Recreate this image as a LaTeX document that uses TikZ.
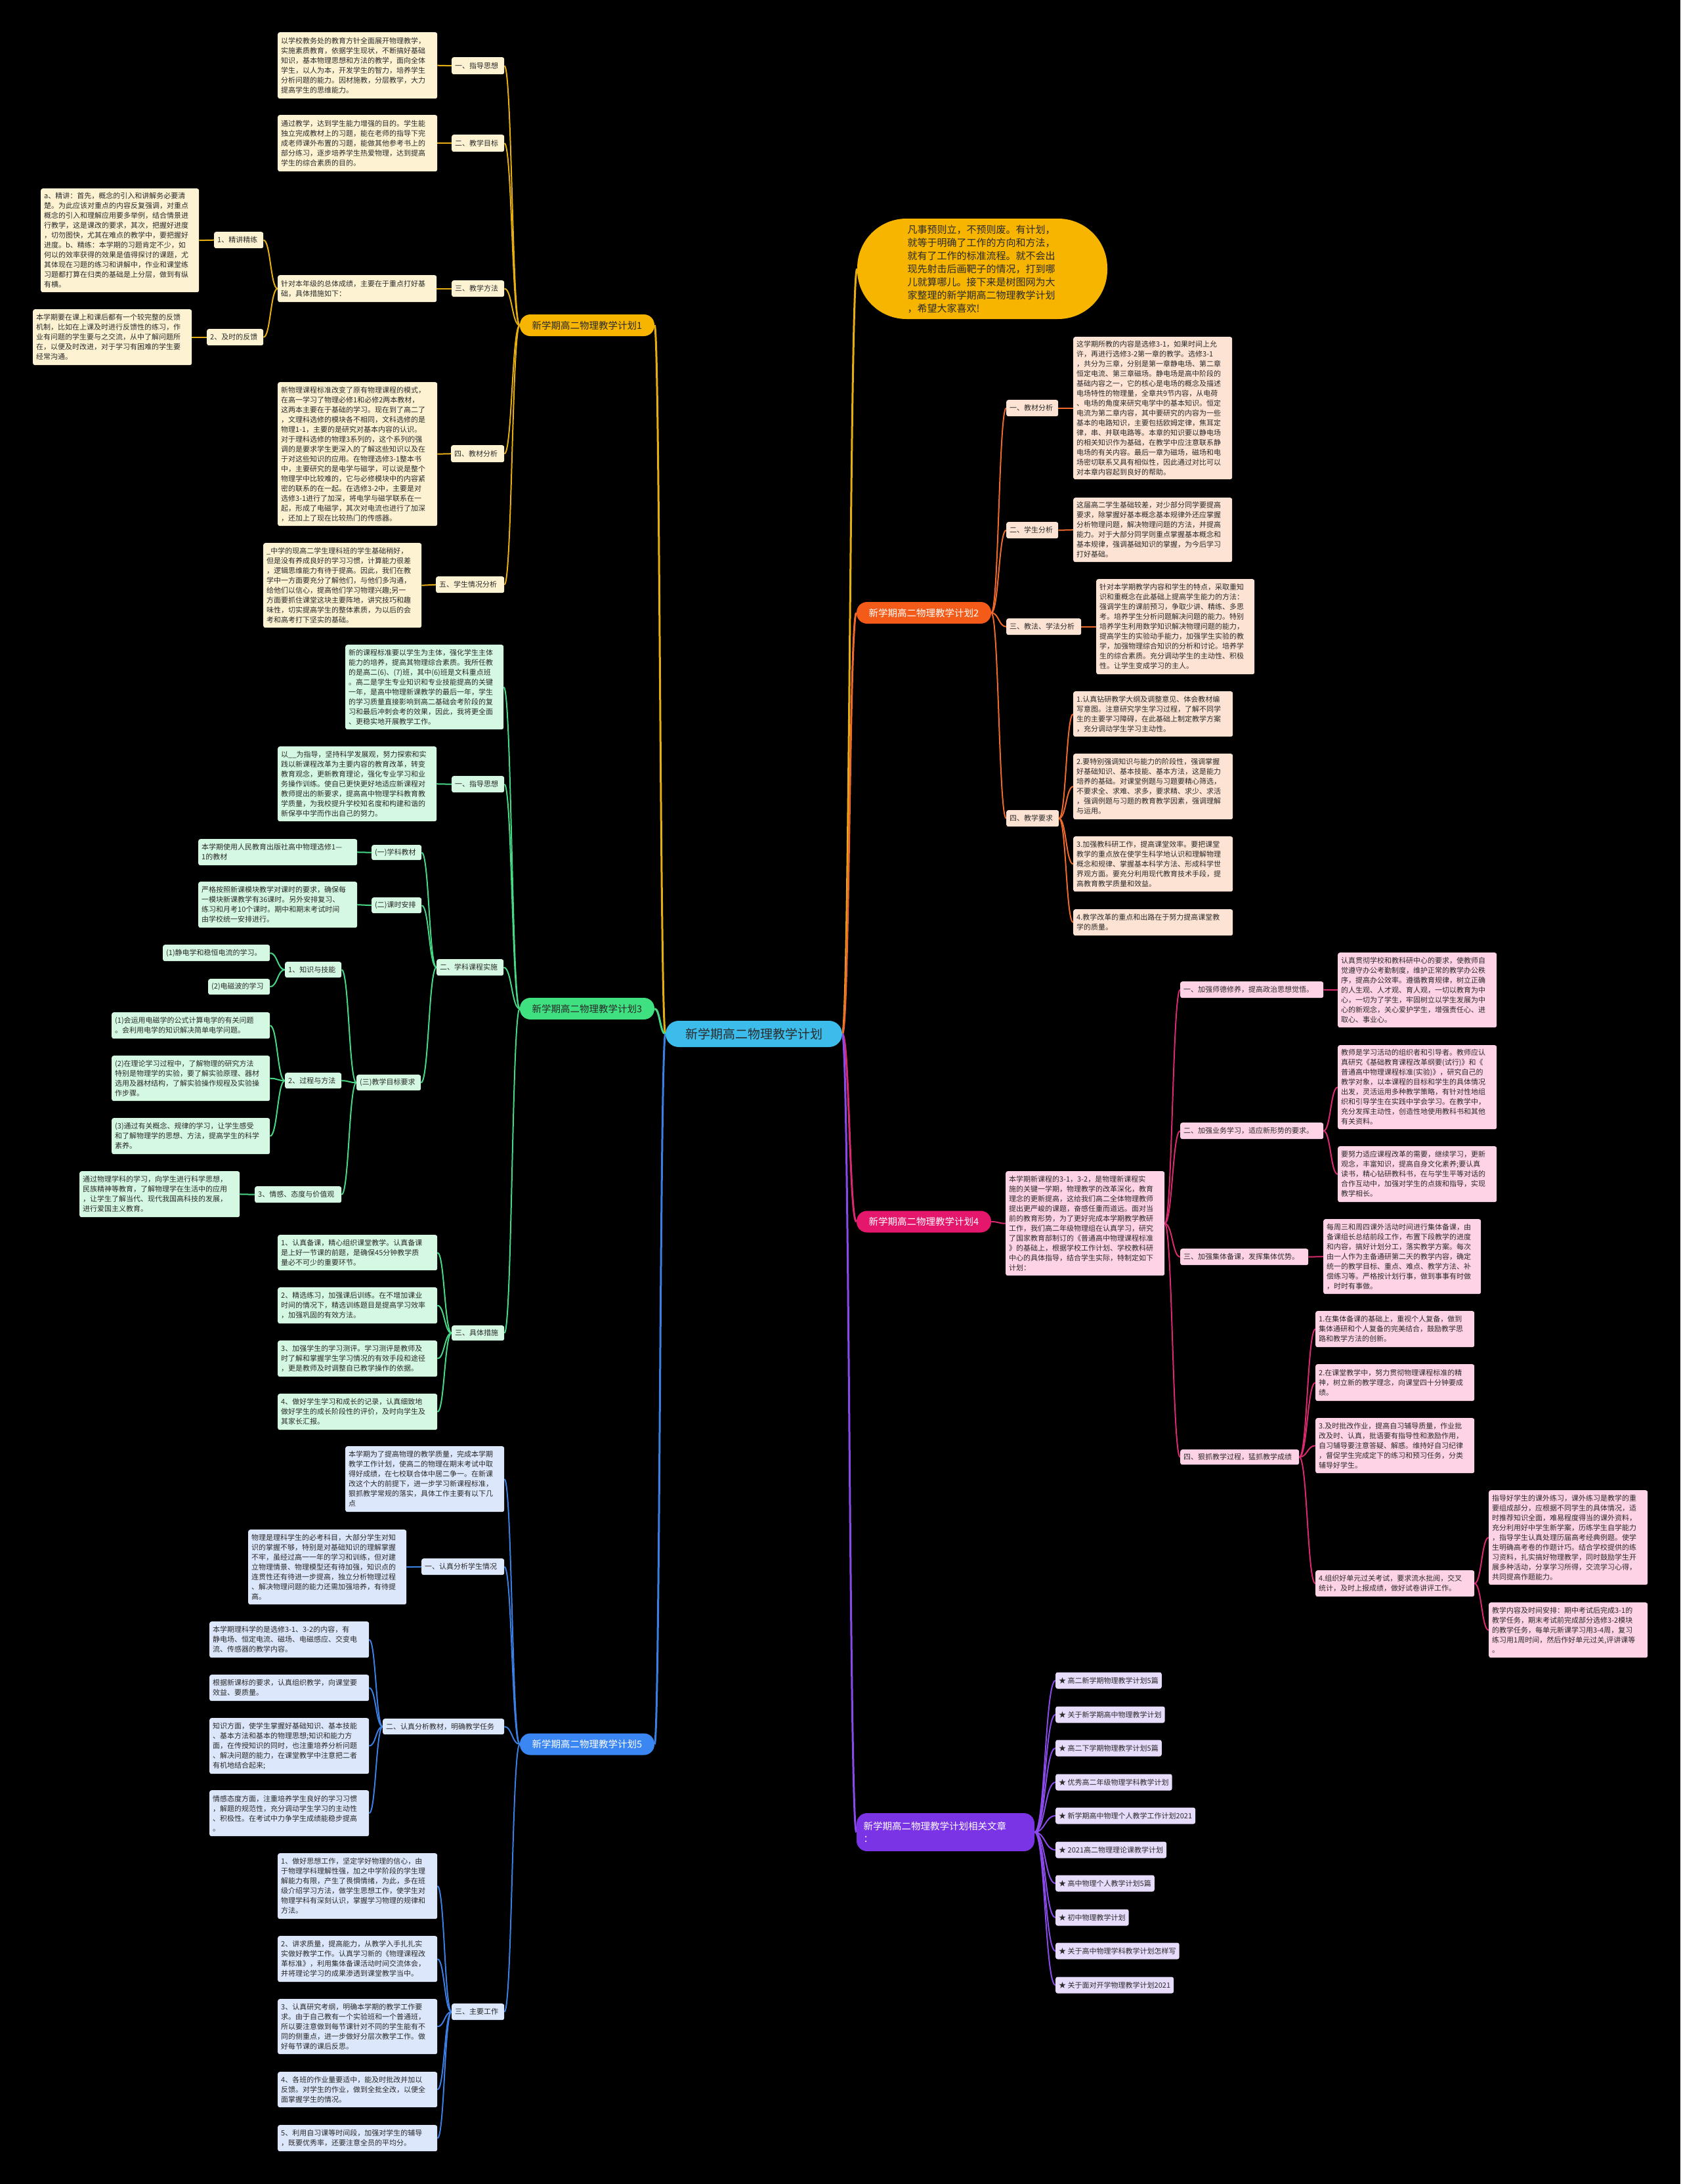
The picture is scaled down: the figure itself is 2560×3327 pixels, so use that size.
\documentclass[tikz,border=0pt]{standalone}
\usepackage{fontspec}
\newfontfamily\cjk{Noto Sans CJK SC}
\usetikzlibrary{calc}
\pgfdeclarelayer{bglines}
\pgfsetlayers{bglines,main}
\definecolor{ymain}{HTML}{F7B500}\definecolor{ysub}{HTML}{FDF3D3}\definecolor{yln}{HTML}{E5AE12}
\definecolor{omain}{HTML}{F45B18}\definecolor{osub}{HTML}{FDE3D3}\definecolor{oln}{HTML}{EE6A2C}
\definecolor{gmain}{HTML}{3EE07F}\definecolor{gsub}{HTML}{D4F8E1}\definecolor{gln}{HTML}{47D886}
\definecolor{pmain}{HTML}{E5176C}\definecolor{psub}{HTML}{FFD3E6}\definecolor{pln}{HTML}{D82A70}
\definecolor{bmain}{HTML}{3A86F2}\definecolor{bsub}{HTML}{DCE7FB}\definecolor{bln}{HTML}{3C7FE3}
\definecolor{vmain}{HTML}{7B33E6}\definecolor{vsub}{HTML}{E7DCFB}\definecolor{vln}{HTML}{8A4AEA}
\definecolor{rootc}{HTML}{3BBCEB}
\definecolor{dtxt}{HTML}{2A2A2A}
\newcommand\mybox[7]{%
  \pgfmathsetmacro\mbw{#5-#3-10}%
  \pgfmathsetmacro\mbh{#6-#4}%
  \node[#2,anchor=north west,text width=\mbw pt,minimum height=\mbh pt] (#1) at (#3,#4) {#7};}
\newcommand\cL[3]{\draw[#1] let \p1=(#2.west),\p2=(#3.east) in (\p1) .. controls ({(\x1+\x2)/2},\y1) and ({(\x1+\x2)/2},\y2) .. (\p2);}
\newcommand\cR[3]{\draw[#1] let \p1=(#2.east),\p2=(#3.west) in (\p1) .. controls ({(\x1+\x2)/2},\y1) and ({(\x1+\x2)/2},\y2) .. (\p2);}
\tikzset{
  base/.style={rectangle,rounded corners=3pt,inner xsep=5pt,inner ysep=2pt,align=left,text=dtxt,font=\cjk\fontsize{11}{15}\selectfont},
  yb/.style={base,fill=ysub},
  ob/.style={base,fill=osub},
  gb/.style={base,fill=gsub},
  pb/.style={base,fill=psub},
  bb/.style={base,fill=bsub},
  vb/.style={base,fill=vsub,minimum height=25pt},
  mainnode/.style={rectangle,rounded corners=16pt,minimum width=205pt,minimum height=33pt,inner sep=3pt,font=\cjk\fontsize{14.5}{17}\selectfont},
  yl/.style={draw=yln,line width=2pt},
  ol/.style={draw=oln,line width=2pt},
  gl/.style={draw=gln,line width=2pt},
  pl/.style={draw=pln,line width=2pt},
  bl/.style={draw=bln,line width=2pt},
  vl/.style={draw=vln,line width=2pt},
}
\begin{document}
\begin{tikzpicture}[x=1pt,y=-1pt]
\begin{pgfonlayer}{bglines}
\fill[black] (0,0) rectangle (2560,3327);
\end{pgfonlayer}
\useasboundingbox (0,0) rectangle (2560,3327);

% root
\node[rectangle,rounded corners=20pt,fill=rootc,minimum width=269pt,minimum height=40pt,text=dtxt,font=\cjk\fontsize{19}{22}\selectfont] (root) at (1148.5,1575) {新学期高二物理教学计划};

% ===== Branch 1 =====
\node[mainnode,fill=ymain,text=dtxt] (b1) at (894.5,495.5) {新学期高二物理教学计划1};
\mybox{n1a}{yb}{688}{87}{768}{113}{一、指导思想}
\mybox{t1a}{yb}{423}{49}{666}{150}{以学校教务处的教育方针全面展开物理教学，\\实施素质教育，依据学生现状，不断搞好基础\\知识，基本物理思想和方法的教学，面向全体\\学生，以人为本，开发学生的智力，培养学生\\分析问题的能力。因材施教，分层教学，大力\\提高学生的思维能力。}
\mybox{n1b}{yb}{688}{205}{768}{231}{二、教学目标}
\mybox{t1b}{yb}{423}{175}{666}{261}{通过教学，达到学生能力增强的目的。学生能\\独立完成教材上的习题，能在老师的指导下完\\成老师课外布置的习题，能做其他参考书上的\\部分练习，逐步培养学生热爱物理，达到提高\\学生的综合素质的目的。}
\mybox{n1c}{yb}{688}{427}{768}{452}{三、教学方法}
\mybox{t1c}{yb}{423}{419}{665}{460}{针对本年级的总体成绩，主要在于重点打好基\\础，具体措施如下：}
\mybox{n1c1}{yb}{326}{353}{401}{378}{1、精讲精练}
\mybox{t1c1}{yb}{62}{287}{303}{445}{a、精讲：首先，概念的引入和讲解务必要清\\楚。为此应该对重点的内容反复强调，对重点\\概念的引入和理解应用要多举例，结合情景进\\行教学，这是课改的要求，其次，把握好进度\\，切勿图快，尤其在难点的教学中，要把握好\\进度。b、精练：本学期的习题肯定不少，如\\何以的效率获得的效果是值得探讨的课题，尤\\其体现在习题的练习和讲解中，作业和课堂练\\习题都打算在归类的基础是上分层，做到有纵\\有横。}
\mybox{n1c2}{yb}{315}{501}{401}{526}{2、及时的反馈}
\mybox{t1c2}{yb}{50}{471}{292}{556}{本学期要在课上和课后都有一个较完整的反馈\\机制，比如在上课及时进行反馈性的练习，作\\业有问题的学生要与之交流，从中了解问题所\\在，以便及时改进，对于学习有困难的学生要\\经常沟通。}
\mybox{n1d}{yb}{687}{678}{768}{704}{四、教材分析}
\mybox{t1d}{yb}{423}{582}{666}{801}{新物理课程标准改变了原有物理课程的模式，\\在高一学习了物理必修1和必修2两本教材，\\这两本主要在于基础的学习。现在到了高二了\\，文理科选修的模块各不相同，文科选修的是\\物理1-1，主要的是研究对基本内容的认识。\\对于理科选修的物理3系列的，这个系列的强\\调的是要求学生更深入的了解这些知识以及在\\于对这些知识的应用。在物理选修3-1整本书\\中，主要研究的是电学与磁学，可以说是整个\\物理学中比较难的，它与必修模块中的内容紧\\密的联系的在一起。在选修3-2中，主要是对\\选修3-1进行了加深，将电学与磁学联系在一\\起，形成了电磁学，其次对电流也进行了加深\\，还加上了现在比较热门的传感器。}
\mybox{n1e}{yb}{664}{878}{768}{903}{五、学生情况分析}
\mybox{t1e}{yb}{401}{827}{642}{956}{\_中学的现高二学生理科班的学生基础稍好，\\但是没有养成良好的学习习惯，计算能力很差\\，逻辑思维能力有待于提高。因此，我们在教\\学中一方面要充分了解他们，与他们多沟通，\\给他们以信心，提高他们学习物理兴趣;另一\\方面要抓住课堂这块主要阵地，讲究技巧和趣\\味性，切实提高学生的整体素质，为以后的会\\考和高考打下坚实的基础。}

% ===== intro =====
\node[rectangle,rounded corners=75pt,fill=ymain,minimum width=381pt,minimum height=153pt,text width=228pt,align=left,text=dtxt,font=\cjk\fontsize{15}{20}\selectfont] (intro) at (1496.5,409.5) {凡事预则立，不预则废。有计划，\\就等于明确了工作的方向和方法，\\就有了工作的标准流程。就不会出\\现先射击后画靶子的情况，打到哪\\儿就算哪儿。接下来是树图网为大\\家整理的新学期高二物理教学计划\\，希望大家喜欢!};

% ===== Branch 2 =====
\node[mainnode,fill=omain,text=white] (b2) at (1407.5,933.5) {新学期高二物理教学计划2};
\mybox{n2a}{ob}{1533}{609}{1612}{634}{一、教材分析}
\mybox{t2a}{ob}{1635}{513}{1877}{730}{这学期所教的内容是选修3-1，如果时间上允\\许，再进行选修3-2第一章的教学。选修3-1\\，共分为三章，分别是第一章静电场、第二章\\恒定电流、第三章磁场。静电场是高中阶段的\\基础内容之一，它的核心是电场的概念及描述\\电场特性的物理量，全章共9节内容，从电荷\\、电场的角度来研究电学中的基本知识。恒定\\电流为第二章内容，其中要研究的内容为一些\\基本的电路知识，主要包括欧姆定律，焦耳定\\律，串、并联电路等。本章的知识要以静电场\\的相关知识作为基础，在教学中应注意联系静\\电场的有关内容。最后一章为磁场，磁场和电\\场密切联系又具有相似性，因此通过对比可以\\对本章内容起到良好的帮助。}
\mybox{n2b}{ob}{1533}{795}{1612}{820}{二、学生分析}
\mybox{t2b}{ob}{1635}{758}{1877}{856}{这届高二学生基础较差，对少部分同学要提高\\要求，除掌握好基本概念基本规律外还应掌握\\分析物理问题，解决物理问题的方法，并提高\\能力。对于大部分同学则重点掌握基本概念和\\基本规律，强调基础知识的掌握，为今后学习\\打好基础。}
\mybox{n2c}{ob}{1533}{942}{1647}{967}{三、教法、学法分析}
\mybox{t2c}{ob}{1670}{882}{1911}{1027}{针对本学期教学内容和学生的特点，采取重知\\识和重概念在此基础上提高学生能力的方法：\\强调学生的课前预习，争取少讲、精练、多思\\考。培养学生分析问题解决问题的能力。特别\\培养学生利用数学知识解决物理问题的能力，\\提高学生的实验动手能力，加强学生实验的教\\学，加强物理综合知识的分析和讨论。培养学\\生的综合素质。充分调动学生的主动性、积极\\性。让学生变成学习的主人。}
\mybox{n2d}{ob}{1533}{1234}{1613}{1259}{四、教学要求}
\mybox{t2d1}{ob}{1635}{1053}{1878}{1122}{1.认真钻研教学大纲及调整意见、体会教材编\\写意图。注意研究学生学习过程，了解不同学\\生的主要学习障碍，在此基础上制定教学方案\\，充分调动学生学习主动性。}
\mybox{t2d2}{ob}{1635}{1148}{1878}{1248}{2.要特别强调知识与能力的阶段性，强调掌握\\好基础知识、基本技能、基本方法，这是能力\\培养的基础。对课堂例题与习题要精心筛选，\\不要求全、求难、求多，要求精、求少、求活\\，强调例题与习题的教育教学因素，强调理解\\与运用。}
\mybox{t2d3}{ob}{1635}{1274}{1878}{1358}{3.加强教科研工作，提高课堂效率。要把课堂\\教学的重点放在使学生科学地认识和理解物理\\概念和规律、掌握基本科学方法、形成科学世\\界观方面。要充分利用现代教育技术手段，提\\高教育教学质量和效益。}
\mybox{t2d4}{ob}{1635}{1385}{1878}{1425}{4.教学改革的重点和出路在于努力提高课堂教\\学的质量。}

% ===== Branch 3 =====
\node[mainnode,fill=gmain,text=dtxt] (b3) at (894.5,1536.5) {新学期高二物理教学计划3};
\mybox{t3o}{gb}{526}{982}{767}{1111}{新的课程标准要以学生为主体，强化学生主体\\能力的培养，提高其物理综合素质。我所任教\\的是高二(6)、(7)班，其中(6)班是文科重点班\\。高二是学生专业知识和专业技能提高的关键\\一年，是高中物理新课教学的最后一年，学生\\的学习质量直接影响到高二基础会考阶段的复\\习和最后冲刺会考的效果，因此，我将更全面\\、更稳实地开展教学工作。}
\mybox{n3a}{gb}{688}{1182}{768}{1207}{一、指导思想}
\mybox{t3a}{gb}{423}{1137}{665}{1251}{以\_\_为指导，坚持科学发展观，努力探索和实\\践以新课程改革为主要内容的教育改革，转变\\教育观念，更新教育理论，强化专业学习和业\\务操作训练。使自已更快更好地适应新课程对\\教师提出的新要求，提高高中物理学科教育教\\学质量，为我校提升学校知名度和构建和谐的\\新保亭中学而作出自己的努力。}
\mybox{n3b}{gb}{665}{1461}{767}{1486}{二、学科课程实施}
\mybox{n3b1}{gb}{566}{1287}{642}{1310}{(一)学科教材}
\mybox{t3b1}{gb}{302}{1278}{544}{1318}{本学期使用人民教育出版社高中物理选修1—\\1的教材}
\mybox{n3b2}{gb}{566}{1367}{642}{1391}{(二)课时安排}
\mybox{t3b2}{gb}{302}{1343}{544}{1413}{严格按照新课模块教学对课时的要求，确保每\\一模块新课教学有36课时。另外安排复习、\\练习和月考10个课时。期中和期末考试时间\\由学校统一安排进行。}
\mybox{n3b3}{gb}{543}{1637}{641}{1661}{(三)教学目标要求}
\mybox{n3b3a}{gb}{434}{1465}{520}{1489}{1、知识与技能}
\mybox{t3b3a1}{gb}{248}{1439}{411}{1464}{(1)静电学和稳恒电流的学习。}
\mybox{t3b3a2}{gb}{317}{1491}{411}{1515}{(2)电磁波的学习}
\mybox{n3b3b}{gb}{434}{1634}{520}{1658}{2、过程与方法}
\mybox{t3b3b1}{gb}{170}{1542}{411}{1582}{(1)会运用电磁学的公式计算电学的有关问题\\。会利用电学的知识解决简单电学问题。}
\mybox{t3b3b2}{gb}{170}{1608}{411}{1677}{(2)在理论学习过程中，了解物理的研究方法\\特别是物理学的实验，要了解实验原理、器材\\选用及器材结构，了解实验操作规程及实验操\\作步骤。}
\mybox{t3b3b3}{gb}{170}{1703}{411}{1758}{(3)通过有关概念、规律的学习，让学生感受\\和了解物理学的思想、方法，提高学生的科学\\素养。}
\mybox{n3b3c}{gb}{388}{1807}{520}{1832}{3、情感、态度与价值观}
\mybox{t3b3c}{gb}{121}{1784}{365}{1854}{通过物理学科的学习，向学生进行科学思想，\\民族精神等教育，了解物理学在生活中的应用\\，让学生了解当代、现代我国高科技的发展，\\进行爱国主义教育。}
\mybox{n3c}{gb}{688}{2019}{768}{2042}{三、具体措施}
\mybox{t3c1}{gb}{423}{1881}{666}{1935}{1、认真备课，精心组织课堂教学。认真备课\\是上好一节课的前题，是确保45分钟教学质\\量必不可少的重要环节。}
\mybox{t3c2}{gb}{423}{1961}{666}{2016}{2、精选练习，加强课后训练。在不增加课业\\时间的情况下，精选训练题目是提高学习效率\\，加强巩固的有效方法。}
\mybox{t3c3}{gb}{423}{2042}{666}{2097}{3、加强学生的学习测评。学习测评是教师及\\时了解和掌握学生学习情况的有效手段和途径\\，更是教师及时调整自已教学操作的依据。}
\mybox{t3c4}{gb}{423}{2123}{666}{2178}{4、做好学生学习和成长的记录，认真细致地\\做好学生的成长阶段性的评价，及时向学生及\\其家长汇报。}

% ===== Branch 4 =====
\node[mainnode,fill=pmain,text=white] (b4) at (1407.5,1861) {新学期高二物理教学计划4};
\mybox{t4o}{pb}{1532}{1784}{1774}{1943}{本学期新课程的3-1，3-2，是物理新课程实\\施的关键一学期，物理教学的改革深化，教育\\理念的更新提高，这给我们高二全体物理教师\\提出更严峻的课题，奋感任重而道远。面对当\\前的教育形势，为了更好完成本学期教学教研\\工作，我们高二年级物理组在认真学习，研究\\了国家教育部制订的《普通高中物理课程标准\\》的基础上，根据学校工作计划、学校教科研\\中心的具体指导，结合学生实际，特制定如下\\计划：}
\mybox{n4a}{pb}{1798}{1495}{2016}{1520}{一、加强师德修养，提高政治思想觉悟。}
\mybox{t4a}{pb}{2038}{1451}{2280}{1565}{认真贯彻学校和教科研中心的要求，使教师自\\觉遵守办公考勤制度，维护正常的教学办公秩\\序，提高办公效率。遵循教育规律，树立正确\\的人生观、人才观、育人观，一切以教育为中\\心，一切为了学生，牢固树立以学生发展为中\\心的新观念，关心爱护学生，增强责任心、进\\取心、事业心。}
\mybox{n4b}{pb}{1798}{1710}{2016}{1735}{二、加强业务学习，适应新形势的要求。}
\mybox{t4b1}{pb}{2038}{1592}{2280}{1720}{教师是学习活动的组织者和引导者。教师应认\\真研究《基础教育课程改革纲要(试行)》和《\\普通高中物理课程标准(实验)》，研究自己的\\教学对象，以本课程的目标和学生的具体情况\\出发，灵活运用多种教学策略，有针对性地组\\织和引导学生在实践中学会学习。在教学中，\\充分发挥主动性，创造性地使用教科书和其他\\有关资料。}
\mybox{t4b2}{pb}{2038}{1746}{2280}{1831}{要努力适应课程改革的需要，继续学习，更新\\观念，丰富知识，提高自身文化素养;要认真\\读书，精心钻研教科书，在与学生平等对话的\\合作互动中，加强对学生的点拨和指导，实现\\教学相长。}
\mybox{n4c}{pb}{1798}{1902}{1993}{1927}{三、加强集体备课，发挥集体优势。}
\mybox{t4c}{pb}{2016}{1857}{2256}{1971}{每周三和周四课外活动时间进行集体备课，由\\备课组长总结前段工作，布置下段教学的进度\\和内容，搞好计划分工，落实教学方案。每次\\由一人作为主备通研第二天的教学内容，确定\\统一的教学目标、重点、难点、教学方法、补\\偿练习等。严格按计划行事，做到事事有时做\\，时时有事做。}
\mybox{n4d}{pb}{1798}{2208}{1979}{2231}{四、狠抓教学过程，猛抓教学成绩}
\mybox{t4d1}{pb}{2004}{1997}{2246}{2052}{1.在集体备课的基础上，重视个人复备，做到\\集体通研和个人复备的完美结合，鼓励教学思\\路和教学方法的创新。}
\mybox{t4d2}{pb}{2004}{2078}{2246}{2134}{2.在课堂教学中，努力贯彻物理课程标准的精\\神，树立新的教学理念，向课堂四十分钟要成\\绩。}
\mybox{t4d3}{pb}{2004}{2160}{2246}{2244}{3.及时批改作业，提高自习辅导质量，作业批\\改及时、认真，批语要有指导性和激励作用，\\自习辅导要注意答疑、解惑。维持好自习纪律\\，督促学生完成定下的练习和预习任务，分类\\辅导好学生。}
\mybox{t4d4}{pb}{2004}{2392}{2246}{2432}{4.组织好单元过关考试，要求流水批阅，交叉\\统计，及时上报成绩，做好试卷讲评工作。}
\mybox{t4d4a}{pb}{2268}{2270}{2510}{2414}{指导好学生的课外练习，课外练习是教学的重\\要组成部分，应根据不同学生的具体情况，适\\时推荐知识全面，难易程度得当的课外资料，\\充分利用好中学生新学案，历练学生自学能力\\，指导学生认真处理历届高考经典例题。使学\\生明确高考卷的作题计巧。结合学校提供的练\\习资料，扎实搞好物理教学，同时鼓励学生开\\展多种活动，分享学习所得，交流学习心得，\\共同提高作题能力。}
\mybox{t4d4b}{pb}{2268}{2441}{2510}{2525}{教学内容及时间安排：期中考试后完成3-1的\\教学任务，期末考试前完成部分选修3-2模块\\的教学任务，每单元新课学习用3-4周，复习\\练习用1周时间，然后作好单元过关,评讲课等\\。}

% ===== Branch 5 =====
\node[mainnode,fill=bmain,text=white] (b5) at (894.5,2657) {新学期高二物理教学计划5};
\mybox{t5o}{bb}{526}{2203}{768}{2303}{本学期为了提高物理的教学质量，完成本学期\\教学工作计划，使高二的物理在期末考试中取\\得好成绩，在七校联合体中居二争一。在新课\\改这个大的前提下，进一步学习新课程标准，\\狠抓教学常规的落实，具体工作主要有以下几\\点}
\mybox{n5a}{bb}{642}{2374}{768}{2399}{一、认真分析学生情况}
\mybox{t5a}{bb}{378}{2330}{619}{2444}{物理是理科学生的必考科目，大部分学生对知\\识的掌握不够，特别是对基础知识的理解掌握\\不牢，虽经过高一一年的学习和训练，但对建\\立物理情景、物理模型还有待加强，知识点的\\连贯性还有待进一步提高，独立分析物理过程\\、解决物理问题的能力还需加强培养，有待提\\高。}
\mybox{n5b}{bb}{583}{2618}{768}{2642}{二、认真分析教材，明确教学任务}
\mybox{t5b1}{bb}{319}{2470}{562}{2525}{本学期理科学的是选修3-1、3-2的内容，有\\静电场、恒定电流、磁场、电磁感应、交变电\\流、传感器的教学内容。}
\mybox{t5b2}{bb}{319}{2551}{562}{2591}{根据新课标的要求，认真组织教学，向课堂要\\效益、要质量。}
\mybox{t5b3}{bb}{319}{2617}{562}{2702}{知识方面，使学生掌握好基础知识、基本技能\\、基本方法和基本的物理思想;知识和能力方\\面，在传授知识的同时，也注重培养分析问题\\、解决问题的能力，在课堂教学中注意把二者\\有机地结合起来;}
\mybox{t5b4}{bb}{319}{2727}{562}{2797}{情感态度方面，注重培养学生良好的学习习惯\\，解题的规范性，充分调动学生学习的主动性\\、积极性。在考试中力争学生成绩能稳步提高\\。}
\mybox{n5c}{bb}{688}{3052}{768}{3077}{三、主要工作}
\mybox{t5c1}{bb}{423}{2823}{666}{2923}{1、做好思想工作，坚定学好物理的信心，由\\于物理学科理解性强，加之中学阶段的学生理\\解能力有限，产生了畏惧情绪，为此，多在班\\级介绍学习方法，做学生思想工作，使学生对\\物理学科有深刻认识，掌握学习物理的规律和\\方法。}
\mybox{t5c2}{bb}{423}{2949}{666}{3019}{2、讲求质量，提高能力，从教学入手扎扎实\\实做好教学工作。认真学习新的《物理课程改\\革标准》，利用集体备课活动时间交流体会，\\并将理论学习的成果渗透到课堂教学当中。}
\mybox{t5c3}{bb}{423}{3045}{666}{3129}{3、认真研究考纲，明确本学期的教学工作要\\求。由于自己教有一个实验班和一个普通班，\\所以要注意做到每节课针对不同的学生能有不\\同的侧重点，进一步做好分层次教学工作。做\\好每节课的课后反思。}
\mybox{t5c4}{bb}{423}{3156}{666}{3210}{4、各班的作业量要适中，能及时批改并加以\\反馈。对学生的作业，做到全批全改，以便全\\面掌握学生的情况。}
\mybox{t5c5}{bb}{423}{3237}{666}{3277}{5、利用自习课等时间段，加强对学生的辅导\\，既要优秀率，还要注意全员的平均分。}

% ===== Branch 6 =====
\node[rectangle,rounded corners=16pt,fill=vmain,text=white,minimum width=271pt,minimum height=58pt,text width=250pt,align=left,font=\cjk\fontsize{14.5}{19}\selectfont] (b6) at (1440.5,2791) {新学期高二物理教学计划相关文章\\：};
\node[vb,anchor=west] (r1) at (1608,2560) {★ 高二新学期物理教学计划5篇};
\node[vb,anchor=west] (r2) at (1608,2612) {★ 关于新学期高中物理教学计划};
\node[vb,anchor=west] (r3) at (1608,2663) {★ 高二下学期物理教学计划5篇};
\node[vb,anchor=west] (r4) at (1608,2715) {★ 优秀高二年级物理学科教学计划};
\node[vb,anchor=west] (r5) at (1608,2766) {★ 新学期高中物理个人教学工作计划2021};
\node[vb,anchor=west] (r6) at (1608,2818) {★ 2021高二物理理论课教学计划};
\node[vb,anchor=west] (r7) at (1608,2869) {★ 高中物理个人教学计划5篇};
\node[vb,anchor=west] (r8) at (1608,2921) {★ 初中物理教学计划};
\node[vb,anchor=west] (r9) at (1608,2972) {★ 关于高中物理学科教学计划怎样写};
\node[vb,anchor=west] (r10) at (1608,3024) {★ 关于面对开学物理教学计划2021};

% ===== connectors =====
\begin{pgfonlayer}{bglines}
\cL{yl,line width=3pt}{root}{b1}
\cR{yl,line width=3pt}{root}{intro}
\cR{ol,line width=3pt}{root}{b2}
\cL{gl,line width=3pt}{root}{b3}
\cR{pl,line width=3pt}{root}{b4}
\cL{bl,line width=3pt}{root}{b5}
\cR{vl,line width=3pt}{root}{b6}
% b1
\foreach \c in {n1a,n1b,n1c,n1d,n1e} {\cL{yl}{b1}{\c}}
\cL{yl}{n1a}{t1a}\cL{yl}{n1b}{t1b}\cL{yl}{n1c}{t1c}\cL{yl}{n1d}{t1d}\cL{yl}{n1e}{t1e}
\cL{yl}{t1c}{n1c1}\cL{yl}{t1c}{n1c2}\cL{yl}{n1c1}{t1c1}\cL{yl}{n1c2}{t1c2}
% b2
\foreach \c in {n2a,n2b,n2c,n2d} {\cR{ol}{b2}{\c}}
\cR{ol}{n2a}{t2a}\cR{ol}{n2b}{t2b}\cR{ol}{n2c}{t2c}
\foreach \c in {t2d1,t2d2,t2d3,t2d4} {\cR{ol}{n2d}{\c}}
% b3
\foreach \c in {t3o,n3a,n3b,n3c} {\cL{gl}{b3}{\c}}
\cL{gl}{n3a}{t3a}
\foreach \c in {n3b1,n3b2,n3b3} {\cL{gl}{n3b}{\c}}
\cL{gl}{n3b1}{t3b1}\cL{gl}{n3b2}{t3b2}
\foreach \c in {n3b3a,n3b3b,n3b3c} {\cL{gl}{n3b3}{\c}}
\cL{gl}{n3b3a}{t3b3a1}\cL{gl}{n3b3a}{t3b3a2}
\foreach \c in {t3b3b1,t3b3b2,t3b3b3} {\cL{gl}{n3b3b}{\c}}
\cL{gl}{n3b3c}{t3b3c}
\foreach \c in {t3c1,t3c2,t3c3,t3c4} {\cL{gl}{n3c}{\c}}
% b4
\cR{pl}{b4}{t4o}
\foreach \c in {n4a,n4b,n4c,n4d} {\cR{pl}{t4o}{\c}}
\cR{pl}{n4a}{t4a}\cR{pl}{n4b}{t4b1}\cR{pl}{n4b}{t4b2}\cR{pl}{n4c}{t4c}
\foreach \c in {t4d1,t4d2,t4d3,t4d4} {\cR{pl}{n4d}{\c}}
\cR{pl}{t4d4}{t4d4a}\cR{pl}{t4d4}{t4d4b}
% b5
\foreach \c in {t5o,n5a,n5b,n5c} {\cL{bl}{b5}{\c}}
\cL{bl}{n5a}{t5a}
\foreach \c in {t5b1,t5b2,t5b3,t5b4} {\cL{bl}{n5b}{\c}}
\foreach \c in {t5c1,t5c2,t5c3,t5c4,t5c5} {\cL{bl}{n5c}{\c}}
% b6
\foreach \c in {r1,r2,r3,r4,r5,r6,r7,r8,r9,r10} {\cR{vl}{b6}{\c}}
\end{pgfonlayer}
\end{tikzpicture}
\end{document}
